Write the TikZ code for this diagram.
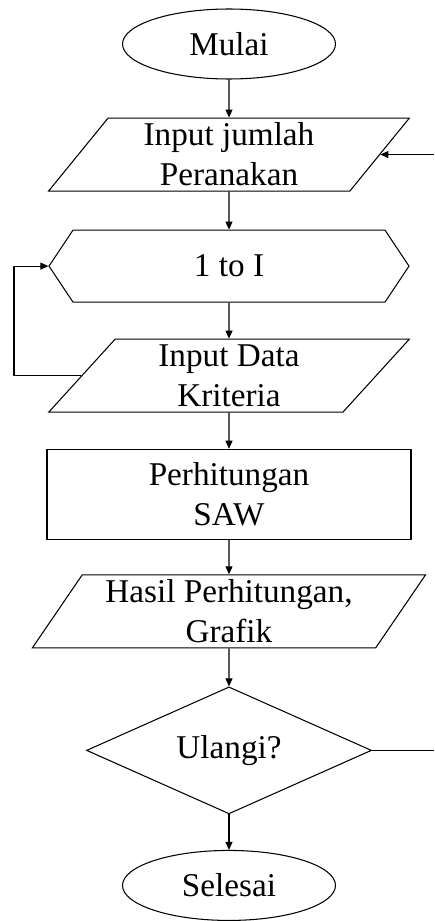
\documentclass[tikz,border=0pt]{standalone}
\usepackage{fontspec}
\setmainfont{Liberation Serif}
\usetikzlibrary{calc,positioning,arrows.meta}
\usetikzlibrary{shapes.geometric,shapes.symbols}
\tikzset{
    terminal/.style={
        ellipse, draw, line width=0.6pt, inner sep=0pt,
        minimum width=4.26cm, minimum height=1.4cm, align=center
    },
    iobox/.style={
        trapezium, trapezium left angle=56.5, trapezium right angle=123.5,
        trapezium stretches=true, draw, line width=0.6pt, inner sep=0pt,
        minimum width=#1, minimum height=1.46cm, align=center
    },
    iobox/.default=7.22cm,
    loopbox/.style={
        signal, signal to=west and east, signal pointer angle=112.6,
        draw, line width=0.6pt, inner sep=0pt,
        minimum width=7.2cm, minimum height=1.44cm, align=center
    }
}

\begin{document}
\begin{tikzpicture}[
    font=\fontsize{18.9}{22.8}\selectfont,
    process/.style={
        draw, line width=0.6pt, rectangle,
        minimum width=7.28cm, minimum height=1.8cm, align=center
    },
    decision/.style={
        diamond, aspect=2.24, draw, line width=0.6pt, inner sep=0pt,
        minimum width=5.7cm, minimum height=2.54cm, align=center
    },
    arrow/.style={-{Triangle[length=0.16cm,width=0.14cm]}, line width=0.6pt},
]
\useasboundingbox (0,0) rectangle (8.68,-18.42);

% ============ Flow ============

\node[terminal] (mulai) at (4.58,-0.88) {Mulai};
\node[iobox, below=0.76cm of mulai] (input1) {Input jumlah\\Peranakan};
\node[loopbox, below=0.76cm of input1] (hex) {1 to I};
\node[iobox, below=0.72cm of hex] (input2) {Input Data\\Kriteria};
\node[process, below=0.72cm of input2] (saw) {Perhitungan\\SAW};
\node[iobox=7.88cm, below=0.69cm of saw] (hasil) {Hasil Perhitungan,\\Grafik};
\node[decision, below=0.76cm of hasil] (ulangi) {Ulangi?};
\node[terminal, below=0.71cm of ulangi] (selesai) {Selesai};

% free ends on the right edge, loop corner on the left
\coordinate (rt) at (8.68,0);
\coordinate (backin) at (input1.east -| rt);
\coordinate (backout) at (ulangi.east -| rt);
\coordinate (loopin) at ($(input2.bottom left corner)!0.5!(input2.top left corner)$);
\coordinate (loopl) at (0.28,0);

% ============ Arrows ============

\draw[arrow] (mulai) -- (input1);
\draw[arrow] (input1) -- (hex);
\draw[arrow] (hex) -- (input2);
\draw[arrow] (input2) -- (saw);
\draw[arrow] (saw) -- (hasil);
\draw[arrow] (hasil) -- (ulangi);
\draw[arrow] (ulangi) -- (selesai);

\draw[arrow] (loopin) -- (loopin -| loopl) |- (hex.west);
\draw (ulangi.east) -- (backout);
\draw[arrow] (backin) -- (input1.east);

\end{tikzpicture}
\end{document}
